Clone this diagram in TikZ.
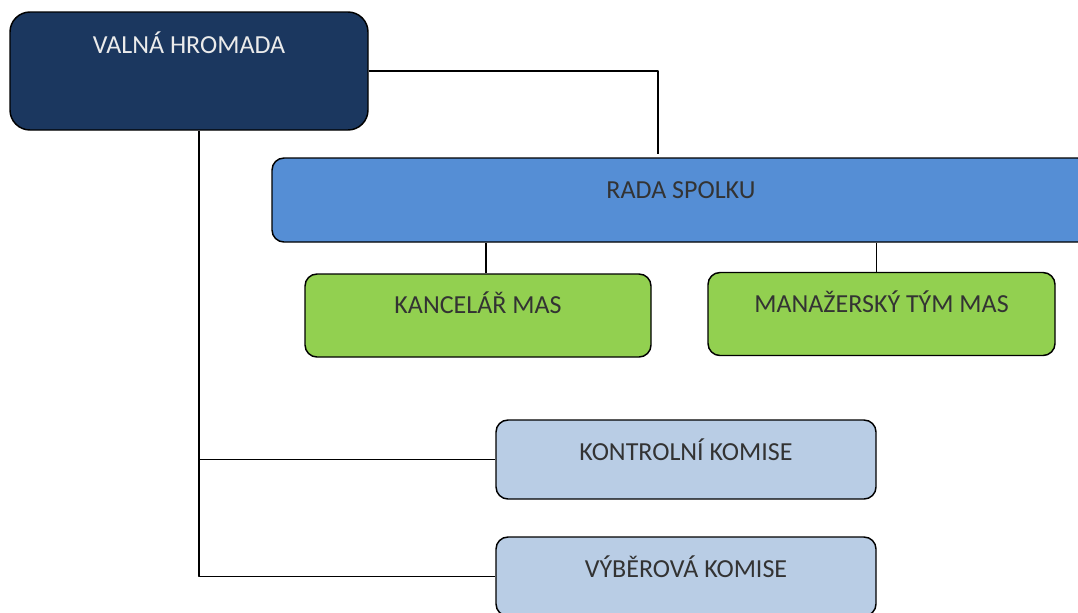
\documentclass[tikz,border=0pt]{standalone}
\usepackage{fontspec}
\setmainfont{Carlito}
\definecolor{tmavamodra}{HTML}{1B375F}
\definecolor{modra}{HTML}{558ED5}
\definecolor{zelena}{HTML}{92D050}
\definecolor{svetlemodra}{HTML}{B9CDE5}

\begin{document}
\begin{tikzpicture}[x=0.75pt, y=-0.75pt, line join=round, font=\fontsize{19.5}{22}\selectfont,
	box/.style={draw=black, line width=1.1pt, rounded corners=9pt, inner sep=0pt, text=black!80, text height=12.5pt, text depth=15.5pt},
	spoj/.style={draw=black, line width=0.9pt}]
	\useasboundingbox (0,0) rectangle (1078,612);
	\clip (0,0) rectangle (1078,612);
	% Valná hromada
	\node[box, fill=tmavamodra, text=white!92!black, rounded corners=15pt, minimum width=268.5pt, minimum height=88.5pt, text depth=39.5pt] (vh) at (189,71) {VALNÁ HROMADA};
	% Rada a její složky
	\node[box, fill=modra, minimum width=613.5pt, minimum height=63pt] (rada) at (681,200) {RADA SPOLKU};
	\node[box, fill=zelena, minimum width=259.5pt, minimum height=62.25pt] (kanc) at (478,315.5) {KANCELÁŘ MAS};
	\node[box, fill=zelena, minimum width=260.25pt, minimum height=62.25pt] (man) at (881.5,314) {MANAŽERSKÝ TÝM MAS};
	% Komise
	\node[box, fill=svetlemodra, minimum width=285pt, minimum height=59.25pt, text depth=11pt] (kon) at (686,459.5) {KONTROLNÍ KOMISE};
	\node[box, fill=svetlemodra, minimum width=285pt, minimum height=59.25pt, text depth=11pt] (vyb) at (686,576.5) {VÝBĚROVÁ KOMISE};
	% Spojnice
	\coordinate (rtop) at (658,154);
	\coordinate (kmen) at ([xshift=7.5pt]vh.south);
	\coordinate (k1) at ([xshift=6pt]kanc.north);
	\coordinate (m1) at ([xshift=-4pt]man.north);
	\draw[spoj] (vh.east) -| (rtop);
	\draw[spoj] (kmen) |- (vyb.west);
	\draw[spoj] (kmen |- kon.west) -- (kon.west);
	\draw[spoj] (k1) -- (k1 |- rada.south);
	\draw[spoj] (m1) -- (m1 |- rada.south);
\end{tikzpicture}
\end{document}
